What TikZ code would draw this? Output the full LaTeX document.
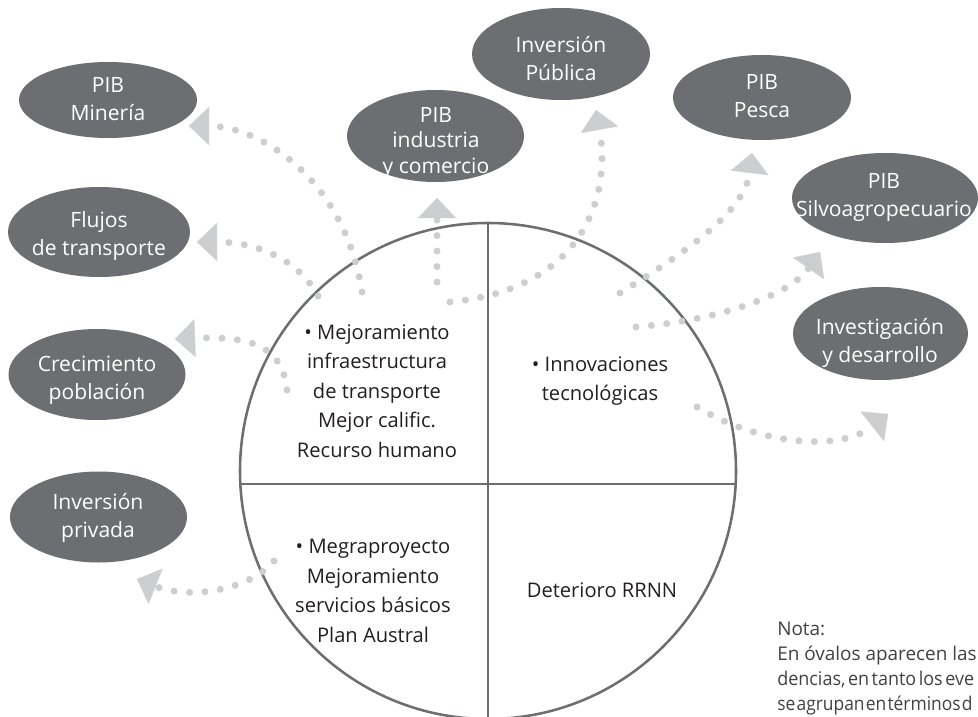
\documentclass[tikz,border=0pt]{standalone}
\usepackage{fontspec}
\usepackage{graphicx}
\setmainfont{Open Sans}
\usetikzlibrary{arrows.meta,shapes.geometric}
\definecolor{ovalgray}{HTML}{6D6E71}
\definecolor{dotgray}{HTML}{CDCED0}
\definecolor{ink}{HTML}{231F20}
\begin{document}
\begin{tikzpicture}[x=0.75pt,y=-0.75pt,
  oval/.style={ellipse, fill=ovalgray, inner sep=0pt, outer sep=0pt},
  ovaltext/.style={text=white, align=center, inner sep=0pt, font=\fontsize{15.8}{21}\selectfont},
  qtext/.style={text=ink, align=center, inner sep=0pt, font=\fontsize{15.1}{22.1}\selectfont},
  notetext/.style={text=ink!85, align=left, inner sep=0pt, font=\fontsize{14.2}{18.75}\selectfont},
  dotarrow/.style={color=dotgray, line width=5.25pt, line cap=round, dash pattern=on 0pt off 11.6pt,
    -{Triangle[length=15pt,width=28.5pt,line width=0.1pt]}},
  frame/.style={draw=ovalgray, line width=1.9pt}
]
\fill[white] (0,0) rectangle (978,717);
\useasboundingbox (0,0) rectangle (978,717);

% central circle with quadrants
\node[circle, frame, minimum size=372pt, inner sep=0pt, outer sep=0pt] (c) at (488,471) {};
\draw[frame] (c.north) -- (c.south);
\draw[frame] (c.183) -- (c.-3);

% ovals
\node[oval, minimum width=133.5pt, minimum height=57pt] (min) at (108,100) {};
\node[oval, minimum width=136.5pt, minimum height=67.5pt] (flu) at (99,232) {};
\node[oval, minimum width=132.75pt, minimum height=68.25pt] (cre) at (97,374.5) {};
\node[oval, minimum width=132.75pt, minimum height=68.25pt] (pri) at (98.5,517) {};
\node[oval, minimum width=132.75pt, minimum height=69pt] (ind) at (435.5,136) {};
\node[oval, minimum width=133.5pt, minimum height=69pt] (pub) at (561,54) {};
\node[oval, minimum width=133.5pt, minimum height=63.75pt] (pes) at (762,97.5) {};
\node[oval, minimum width=139.5pt, minimum height=67.5pt] (sil) at (885,198) {};
\node[oval, minimum width=131.25pt, minimum height=69.75pt] (inv) at (880.5,333.5) {};

% oval texts
\node[ovaltext] (minT) at (108,99) {PIB\\Minería};
\node[ovaltext] (fluT) at (99,236) {Flujos\\de transporte};
\node[ovaltext] (creT) at (97,380) {Crecimiento\\población};
\node[ovaltext] (priT) at (98,518) {Inversión\\privada};
\node[ovaltext, font=\fontsize{15.8}{19.2}\selectfont] (indT) at (436,143) {PIB\\industria\\y comercio};
\node[ovaltext] (pubT) at (561,59) {Inversión\\Pública};
\node[ovaltext] (pesT) at (762,96) {PIB\\Pesca};
\node[ovaltext] (silT) at (884,198) {PIB\\Silvoagropecuario};
\node[ovaltext] (invT) at (880,343) {Investigación\\y desarrollo};

% dotted arrows
\coordinate (s1) at (362,292); \coordinate (e1) at (189,126);
\coordinate (s2) at (318,296); \coordinate (e2) at (197,242);
\coordinate (s3) at (287,390); \coordinate (e3) at (175,339);
\coordinate (s4) at (274,561); \coordinate (e4) at (137,579);
\coordinate (s5) at (437,282); \coordinate (e5) at (437,198);
\coordinate (s6) at (450,302); \coordinate (e6) at (596,110);
\coordinate (s7) at (620,293); \coordinate (e7) at (752,153);
\coordinate (s8) at (636,327); \coordinate (e8) at (820,252);
\coordinate (s9) at (697,407); \coordinate (e9) at (888,414);

\draw[dotarrow] (s1) .. controls (345,180) and (260,126) .. (e1);
\draw[dotarrow] (s2) .. controls (300,262) and (260,242) .. (e2);
\draw[dotarrow] (s3) .. controls (282,345) and (250,336) .. (e3);
\draw[dotarrow] (s4) .. controls (250,590) and (190,600) .. (e4);
\draw[dotarrow] (s5) -- (e5);
\draw[dotarrow] (s6) .. controls (580,290) and (612,200) .. (e6);
\draw[dotarrow] (s7) .. controls (690,250) and (745,210) .. (e7);
\draw[dotarrow] (s8) .. controls (720,320) and (790,295) .. (e8);
\draw[dotarrow] (s9) .. controls (760,445) and (840,452) .. (e9);

% quadrant texts
\node[qtext] (ul) at (377,391) {• Mejoramiento\\infraestructura\\de transporte\\Mejor calific.\\Recurso humano};
\node[qtext] (ll) at (373,591) {• Megraproyecto\\Mejoramiento\\servicios básicos\\Plan Austral};
\node[qtext] (ur) at (600,381) {• Innovaciones\\tecnológicas};
\node[qtext] (lr) at (602,590) {Deterioro RRNN};

% note
\node[notetext, anchor=north west] (nota) at (777,622) {Nota:\\En óvalos aparecen las\\\scalebox{0.95}[1]{\spaceskip=0.14em dencias, en tanto los eve}\\\scalebox{0.92}[1]{\spaceskip=0.07em se agrupan en términos d}};
\end{tikzpicture}
\end{document}
